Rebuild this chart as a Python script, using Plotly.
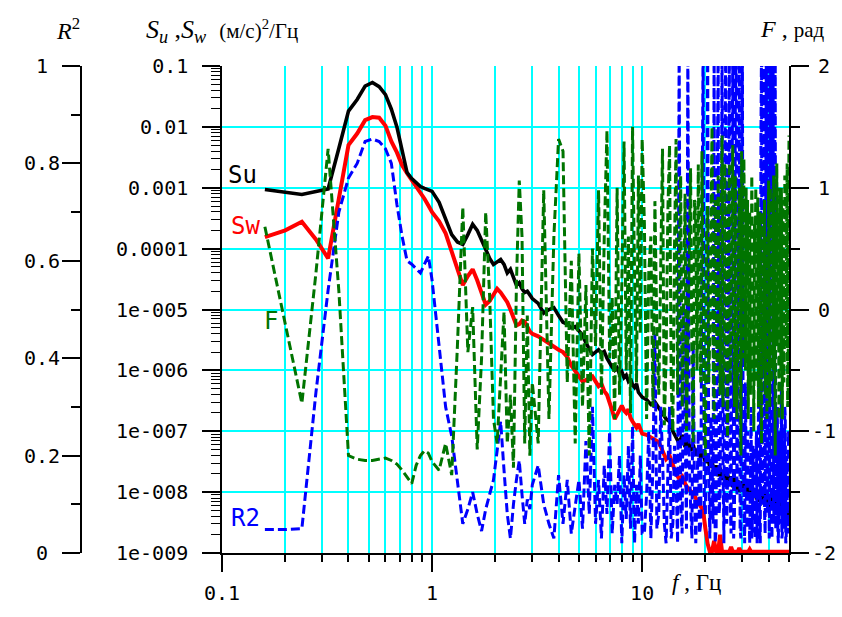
import plotly.graph_objects as go

# ---------------- data ----------------
# frequency grid of the spectra, Hz
freq_a = [0.16, 0.20, 0.24, 0.28, 0.32, 0.36, 0.40, 0.44, 0.48, 0.52, 0.56,
          0.60, 0.64, 0.68, 0.72, 0.76, 0.80, 0.84, 0.88, 0.92, 0.96, 1.00]
freq_b = [1.08, 1.16, 1.24, 1.32, 1.40, 1.48, 1.56, 1.64, 1.72, 1.80, 1.88, 1.96,
          2.04, 2.12, 2.20, 2.28, 2.36, 2.44, 2.52, 2.60, 2.68, 2.76, 2.84, 2.92, 3.00]
freq_c = [3.2, 3.4, 3.6, 3.8, 4.0, 4.2, 4.4, 4.6, 4.8, 5.0, 5.2, 5.4, 5.6, 5.8,
          6.0, 6.2, 6.4, 6.6, 6.8, 7.0, 7.2, 7.4, 7.6, 7.8, 8.0, 8.2, 8.4, 8.6,
          8.8, 9.0, 9.2, 9.4, 9.6, 9.8, 10.0]
freq_d = [10.5, 11.0, 11.5, 12.0, 12.5, 13.0, 13.5, 14.0, 14.5, 15.0,
          15.5, 16.0, 16.5, 17.0, 17.5, 18.0, 18.5, 19.0, 19.5, 20.0,
          20.5, 21.0, 21.5, 22.0, 22.5, 23.0, 23.5, 24.0, 24.5, 25.0,
          25.5, 26.0, 26.5, 27.0, 27.5, 28.0, 28.5, 29.0, 29.5, 30.0,
          30.5, 31.0, 31.5, 32.0, 32.5, 33.0, 33.5, 34.0, 34.5, 35.0,
          35.5, 36.0, 36.5, 37.0, 37.5, 38.0, 38.5, 39.0, 39.5, 40.0,
          40.5, 41.0, 41.5, 42.0, 42.5, 43.0, 43.5, 44.0, 44.5, 45.0,
          45.5, 46.0, 46.5, 47.0, 47.5, 48.0, 48.5, 49.0, 49.5, 50.0]
# finer high-frequency grid used by the phase and coherence curves, Hz
freq_d2 = [10.25, 10.5, 10.75, 11.0, 11.25, 11.5, 11.75, 12.0, 12.25, 12.5, 12.75, 13.0, 13.25, 13.5, 13.75, 14.0,
           14.25, 14.5, 14.75, 15.0, 15.25, 15.5, 15.75, 16.0, 16.25, 16.5, 16.75, 17.0, 17.25, 17.5, 17.75, 18.0,
           18.25, 18.5, 18.75, 19.0, 19.25, 19.5, 19.75, 20.0, 20.25, 20.5, 20.75, 21.0, 21.25, 21.5, 21.75, 22.0,
           22.25, 22.5, 22.75, 23.0, 23.25, 23.5, 23.75, 24.0, 24.25, 24.5, 24.75, 25.0, 25.25, 25.5, 25.75, 26.0,
           26.25, 26.5, 26.75, 27.0, 27.25, 27.5, 27.75, 28.0, 28.25, 28.5, 28.75, 29.0, 29.25, 29.5, 29.75, 30.0,
           30.25, 30.5, 30.75, 31.0, 31.25, 31.5, 31.75, 32.0, 32.25, 32.5, 32.75, 33.0, 33.25, 33.5, 33.75, 34.0,
           34.25, 34.5, 34.75, 35.0, 35.25, 35.5, 35.75, 36.0, 36.25, 36.5, 36.75, 37.0, 37.25, 37.5, 37.75, 38.0,
           38.25, 38.5, 38.75, 39.0, 39.25, 39.5, 39.75, 40.0, 40.25, 40.5, 40.75, 41.0, 41.25, 41.5, 41.75, 42.0,
           42.25, 42.5, 42.75, 43.0, 43.25, 43.5, 43.75, 44.0, 44.25, 44.5, 44.75, 45.0, 45.25, 45.5, 45.75, 46.0,
           46.25, 46.5, 46.75, 47.0, 47.25, 47.5, 47.75, 48.0, 48.25, 48.5, 48.75, 49.0, 49.25, 49.5, 49.75, 50.0]

# Su spectrum, log10 of (m/s)^2/Hz
su_a = [-3.03, -3.08, -3.11, -3.06, -3.02, -2.35, -1.74, -1.55, -1.33, -1.27, -1.34,
        -1.47, -1.71, -2.00, -2.42, -2.75, -2.85, -2.92, -2.98, -3.01, -3.03, -3.06]
su_b = [-3.24, -3.52, -3.77, -3.89, -3.93, -3.77, -3.60, -3.70, -3.86, -4.02, -4.16, -4.26,
        -4.22, -4.18, -4.26, -4.40, -4.34, -4.48, -4.60, -4.56, -4.66, -4.72, -4.70, -4.76, -4.82]
su_c = [-4.90, -5.06, -5.00, -4.97, -5.10, -5.21, -5.24, -5.30, -5.28, -5.36, -5.42, -5.55,
        -5.66, -5.74, -5.70, -5.66, -5.72, -5.69, -5.80, -5.88, -5.95, -6.00, -5.96, -6.06,
        -6.02, -6.12, -6.08, -6.18, -6.14, -6.24, -6.28, -6.22, -6.36, -6.40, -6.44]
su_d = [-6.48, -6.56, -6.52, -6.62, -6.70, -6.80, -6.84, -7.00, -7.10, -7.20,
        -7.06, -7.26, -7.14, -7.32, -7.22, -7.40, -7.28, -7.44, -7.32, -7.52,
        -7.40, -7.60, -7.48, -7.68, -7.56, -7.74, -7.60, -7.80, -7.66, -7.84,
        -7.70, -7.88, -7.74, -7.92, -7.76, -7.96, -7.80, -8.00, -7.82, -7.98,
        -7.84, -8.04, -7.86, -8.06, -7.90, -8.10, -7.92, -8.08, -7.94, -8.12,
        -7.96, -8.16, -7.98, -8.14, -8.00, -8.20, -8.02, -8.18, -8.04, -8.22,
        -8.06, -8.26, -8.08, -8.24, -8.10, -8.30, -8.12, -8.28, -8.14, -8.32,
        -8.16, -8.36, -8.18, -8.38, -8.20, -8.40, -8.22, -8.42, -8.26, -8.34]

# Sw spectrum, log10 of (m/s)^2/Hz
sw_a = [-3.81, -3.70, -3.56, -3.85, -4.16, -3.16, -2.30, -2.11, -1.89, -1.84, -1.85,
        -1.98, -2.24, -2.42, -2.63, -2.76, -2.87, -2.96, -3.06, -3.18, -3.29, -3.40]
sw_b = [-3.55, -3.75, -4.05, -4.35, -4.60, -4.45, -4.34, -4.52, -4.74, -4.92, -4.86, -4.76,
        -4.66, -4.72, -4.80, -4.88, -5.00, -5.12, -5.26, -5.24, -5.18, -5.20, -5.30, -5.36, -5.40]
sw_c = [-5.44, -5.50, -5.56, -5.62, -5.66, -5.70, -5.78, -5.92, -6.02, -6.10, -6.18, -6.16,
        -6.12, -6.10, -6.18, -6.26, -6.22, -6.34, -6.40, -6.52, -6.66, -6.80, -6.72, -6.62,
        -6.58, -6.66, -6.70, -6.64, -6.78, -6.84, -6.90, -6.94, -6.88, -6.98, -7.04]
sw_d = [-7.06, -7.10, -7.14, -7.18, -7.32, -7.46, -7.40, -7.56, -7.70, -7.78,
        -7.74, -7.86, -7.94, -7.98, -8.02, -8.10, -8.18, -8.26, -8.30, -8.60,
        -8.85, -8.98, -8.98, -8.80, -8.98, -8.98, -8.70, -8.98, -8.98, -8.98,
        -8.98, -8.98, -8.90, -8.98, -8.98, -8.98, -8.98, -8.92, -8.98, -8.98,
        -8.98, -8.98, -8.98, -8.98, -8.94, -8.98, -8.98, -8.98, -8.98, -8.98,
        -8.98, -8.98, -8.98, -8.98, -8.98, -8.98, -8.98, -8.98, -8.98, -8.98,
        -8.98, -8.98, -8.98, -8.98, -8.98, -8.98, -8.98, -8.98, -8.98, -8.98,
        -8.98, -8.98, -8.98, -8.98, -8.98, -8.98, -8.98, -8.98, -8.98, -8.98]

# phase F, rad
ph_a = [0.68, -0.13, -0.77, 0.30, 1.32, 0.15, -1.20, -1.23, -1.24, -1.24, -1.23,
        -1.22, -1.24, -1.27, -1.32, -1.38, -1.43, -1.28, -1.20, -1.16, -1.18, -1.25]
ph_b = [-1.32, -1.10, -1.36, -0.30, 0.84, -0.35, 0.02, -1.15, -0.40, 0.80, 0.10, -0.90,
        -1.10, -0.55, -0.02, -1.10, -0.70, -1.30, 0.20, 1.06, 0.60, -1.10, -0.05, -1.20, -0.60]
ph_c = [-1.10, 0.98, -0.90, 0.60, 1.40, 1.30, -0.60, 0.40, -1.10, 0.46, -0.80, 0.20,
        -1.20, 0.50, -0.30, 0.98, -0.70, 0.60, 1.47, -0.40, 0.10, -0.90, 1.00, -0.70,
        0.20, 1.38, -0.50, 0.60, -0.85, 1.50, 0.30, -0.60, 1.10, -0.20, 1.40]
ph_d2 = [0.70, -0.90, 0.30, 0.60, -0.80, 0.89, -0.20, -0.70, 0.40, 1.32, -0.95, -0.40, 0.80, 1.35, -0.60, -1.00,
         0.50, 1.40, -0.70, 0.20, 1.10, -0.80, 0.30, 0.95, -1.00, -0.30, 0.60, 1.16, -0.40, -1.10, 0.90, 0.70,
         -0.50, 1.19, 0.00, -0.60, 1.30, 0.40, -0.90, -1.20, 0.60, 0.85, -0.60, -0.20, 1.00, 1.50, -0.30, -0.90,
         0.90, 0.30, -0.50, 1.10, 0.20, -0.70, 0.70, 1.43, -0.80, -0.40, 1.20, 0.60, -0.30, -1.05, 0.80, 1.20,
         -0.60, 0.10, 0.90, 1.35, -0.20, -0.80, 1.10, 0.50, -0.90, -0.30, 0.60, 1.00, 0.10, -1.20, 1.30, 0.70,
         -0.40, 1.24, 0.30, -0.50, 1.00, 0.20, 0.90, -0.90, 0.40, 0.80, -0.70, -0.20, 1.10, 0.60, 0.00, -1.00,
         0.70, 0.40, 1.00, -0.60, 0.30, 0.92, -0.80, -0.30, 0.80, 0.50, -0.40, -1.10, 0.60, 0.80, -0.50, 0.10,
         0.90, -0.70, 0.30, 0.60, -0.90, -0.20, 0.70, 1.06, 0.00, -0.80, 1.00, 0.30, -0.60, 0.90, 0.20, -0.50,
         1.10, 0.70, -0.30, -1.20, 0.80, 0.40, 1.20, -0.30, 0.50, 0.80, -0.90, -0.60, 1.00, 0.20, -0.50, 1.00,
         0.30, -0.90, 0.90, 0.50, -0.60, -0.40, 1.10, 0.90, -0.30, -0.10, 0.70, 1.20, -0.80, -0.70, 0.60, 1.43]

# coherence R^2
r2_a = [0.048, 0.048, 0.050, 0.33, 0.54, 0.70, 0.77, 0.80, 0.845, 0.85, 0.845,
        0.83, 0.80, 0.716, 0.65, 0.60, 0.593, 0.583, 0.575, 0.593, 0.61, 0.56]
r2_b = [0.42, 0.30, 0.24, 0.15, 0.06, 0.09, 0.125, 0.08, 0.045, 0.09, 0.12, 0.15,
        0.21, 0.27, 0.17, 0.08, 0.03, 0.10, 0.15, 0.19, 0.12, 0.06, 0.11, 0.09, 0.14]
r2_c = [0.18, 0.10, 0.06, 0.03, 0.16, 0.06, 0.15, 0.04, 0.10, 0.15, 0.05, 0.23,
        0.08, 0.30, 0.06, 0.15, 0.03, 0.18, 0.08, 0.25, 0.04, 0.14, 0.10, 0.20,
        0.02, 0.16, 0.07, 0.22, 0.05, 0.26, 0.02, 0.14, 0.06, 0.20, 0.04]
r2_d2 = [0.04, 0.12, 0.25, 0.03, 0.18, 0.45, 0.05, 0.08, 0.30, 0.20, 0.06, 0.02, 0.16, 0.30, 0.03, 0.06,
         0.22, 0.15, 0.02, 1.05, 0.10, 0.04, 0.50, 0.30, 0.05, 1.05, 0.20, 0.10, 0.03, 0.43, 0.12, 0.02,
         0.18, 0.25, 0.04, 0.06, 0.60, 1.05, 0.10, 0.08, 0.40, 1.05, 0.15, 0.03, 0.28, 0.20, 0.06, 1.05,
         0.02, 0.05, 0.70, 1.05, 0.08, 0.12, 0.45, 1.05, 0.20, 0.02, 0.80, 1.05, 0.06, 0.15, 0.55, 1.05,
         0.10, 0.04, 0.65, 1.05, 0.03, 0.08, 0.90, 1.05, 0.12, 0.22, 0.40, 1.05, 0.05, 0.03, 0.75, 1.05,
         0.20, 0.10, 0.02, 0.35, 0.08, 0.05, 0.25, 0.18, 0.04, 0.02, 0.15, 0.30, 0.03, 0.07, 0.22, 0.14,
         0.05, 0.03, 0.18, 0.25, 0.02, 0.06, 0.28, 0.40, 0.05, 0.02, 0.85, 1.05, 0.12, 0.10, 0.60, 1.05,
         0.08, 0.04, 0.70, 1.05, 0.15, 0.08, 0.50, 1.05, 0.03, 0.15, 0.90, 1.05, 0.06, 0.03, 0.65, 1.05,
         0.10, 0.06, 0.80, 1.05, 0.05, 0.12, 0.20, 0.30, 0.04, 0.02, 0.18, 0.25, 0.06, 0.08, 0.22, 0.35,
         0.03, 0.04, 0.26, 0.20, 0.05, 0.10, 0.30, 0.28, 0.02, 0.03, 0.20, 0.15, 0.04, 0.06, 0.25, 0.22]

# tick labels
x_tickvals = [0.1, 1, 10]
x_ticktext = ["0.1", "1", "10"]
x_minor = [0.2, 0.3, 0.4, 0.5, 0.6, 0.7, 0.8, 0.9, 2, 3, 4, 5, 6, 7, 8, 9, 20, 30, 40, 50]
s_tickvals = [1e-9, 1e-8, 1e-7, 1e-6, 1e-5, 1e-4, 1e-3, 1e-2, 1e-1]
s_ticktext = ["1e-009", "1e-008", "1e-007", "1e-006", "1e-005", "0.0001", "0.001", "0.01", "0.1"]
r2_tickvals = [0, 0.2, 0.4, 0.6, 0.8, 1.0]
r2_ticktext = ["0", "0.2", "0.4", "0.6", "0.8", "1"]
r2_minor = [0.1, 0.3, 0.5, 0.7, 0.9]
ph_tickvals = [-2, -1, 0, 1, 2]
ph_ticktext = ["-2", "-1", "0", "1", "2"]
ph_minor = [-1.5, -0.5, 0.5, 1.5]

# ---------------- assemble ----------------
freq = freq_a + freq_b + freq_c + freq_d
su = [10 ** v for v in su_a + su_b + su_c + su_d]
sw = [10 ** v for v in sw_a + sw_b + sw_c + sw_d]
freq_fr = freq_a + freq_b + freq_c + freq_d2
ph = ph_a + ph_b + ph_c + ph_d2
r2 = r2_a + r2_b + r2_c + r2_d2
assert len(freq) == len(su) == len(sw)
assert len(freq_fr) == len(ph) == len(r2)

s_minor = [m * 10 ** e for e in range(-9, -1) for m in range(2, 10)]

W, H = 842, 617
ML, MR, MT, MB = 60, 53, 66, 55
PW = W - ML - MR
PH = H - MT - MB
X0 = 222  # pixel of left plot edge


def px(xp):
    return (xp - ML) / PW


def py(yp):
    return (H - MB - yp) / PH


CYAN = "#00FFFF"
GREEN = "#007400"
TICKFONT = dict(family="DejaVu Sans Mono", size=20, color="black")
LBLFONT = "DejaVu Sans Mono"
SERIF = "Liberation Serif"

fig = go.Figure()
fig.add_trace(go.Scatter(x=freq_fr, y=ph, mode="lines", line=dict(color=GREEN, width=3, dash="9px,4px"),
                         yaxis="y3", name="F"))
fig.add_trace(go.Scatter(x=freq_fr, y=r2, mode="lines", line=dict(color="#0000FF", width=3, dash="9px,4px"),
                         yaxis="y2", name="R2"))
fig.add_trace(go.Scatter(x=freq, y=sw, mode="lines", line=dict(color="#FF0000", width=4),
                         yaxis="y", name="Sw"))
fig.add_trace(go.Scatter(x=freq, y=su, mode="lines", line=dict(color="black", width=3.6),
                         yaxis="y", name="Su"))

fig.update_layout(
    width=W, height=H,
    margin=dict(l=ML, r=MR, t=MT, b=MB),
    paper_bgcolor="white", plot_bgcolor="white",
    showlegend=False,
    xaxis=dict(
        type="log", range=[-1, 1.69897], domain=[px(X0), 1], anchor="y",
        showline=True, linecolor="black", linewidth=1.5,
        ticks="outside", ticklen=17, tickwidth=1.5, tickcolor="black",
        tickvals=x_tickvals, ticktext=x_ticktext, tickfont=TICKFONT,
        ticklabelstandoff=4,
        showgrid=True, gridcolor=CYAN, gridwidth=1.8, zeroline=False,
        minor=dict(tickvals=x_minor, ticks="outside", ticklen=7, tickwidth=1.5,
                   tickcolor="black", showgrid=True, gridcolor=CYAN, gridwidth=1.8),
    ),
    yaxis=dict(
        type="log", range=[-9, -1], anchor="x", side="left",
        showline=True, linecolor="black", linewidth=1.5,
        ticks="outside", ticklen=18, tickwidth=1.5, tickcolor="black",
        tickvals=s_tickvals, ticktext=s_ticktext, tickfont=TICKFONT,
        ticklabelstandoff=10,
        showgrid=True, gridcolor=CYAN, gridwidth=1.8, zeroline=False,
        minor=dict(tickvals=s_minor, ticks="outside", ticklen=9, tickwidth=1,
                   tickcolor="black", showgrid=False),
    ),
    yaxis2=dict(
        range=[0, 1], overlaying="y", anchor="free", position=px(81), side="left",
        showline=True, linecolor="black", linewidth=1.5,
        ticks="outside", ticklen=18, tickwidth=1.5, tickcolor="black",
        tickvals=r2_tickvals, showticklabels=False, showgrid=False, zeroline=False,
        minor=dict(tickvals=r2_minor, ticks="outside", ticklen=9, tickwidth=1.5,
                   tickcolor="black", showgrid=False),
    ),
    yaxis3=dict(
        range=[-2, 2], overlaying="y", anchor="x", side="right",
        showline=True, linecolor="black", linewidth=1.5,
        ticks="outside", ticklen=18, tickwidth=1.5, tickcolor="black",
        tickvals=ph_tickvals, showticklabels=False, showgrid=False, zeroline=False,
        minor=dict(tickvals=ph_minor, ticks="outside", ticklen=9, tickwidth=1.5,
                   tickcolor="black", showgrid=False),
    ),
)

ann = []
# tick labels of the outer R^2 axis and the right phase axis (centred like the original)
for v, t in zip(r2_tickvals, r2_ticktext):
    ann.append(dict(x=px(42), xref="paper", y=v, yref="y2", text=t, showarrow=False,
                    xanchor="center", yanchor="middle", font=TICKFONT))
for v, t in zip(ph_tickvals, ph_ticktext):
    ann.append(dict(x=px(824), xref="paper", y=v, yref="y3", text=t, showarrow=False,
                    xanchor="center", yanchor="middle", font=TICKFONT))

# axis titles
ann.append(dict(x=px(68), y=py(28), xref="paper", yref="paper", showarrow=False,
                text="<i>R</i><sup>2</sup>", font=dict(family=SERIF, size=24, color="black"),
                xanchor="center", yanchor="middle"))
ann.append(dict(x=px(222), y=py(30), xref="paper", yref="paper", showarrow=False,
                text="<i>S<sub>u</sub></i> ,<i>S<sub>w</sub></i>  <span style='font-size:21px'>(м/с)<sup>2</sup>/Гц</span>",
                font=dict(family=SERIF, size=26, color="black"),
                xanchor="center", yanchor="middle"))
ann.append(dict(x=px(792), y=py(28), xref="paper", yref="paper", showarrow=False,
                text="<i>F</i> , <span style='font-size:21px'>рад</span>",
                font=dict(family=SERIF, size=24, color="black"),
                xanchor="center", yanchor="middle"))
ann.append(dict(x=px(696), y=py(592), xref="paper", yref="paper", showarrow=False,
                text="<i>f</i> , Гц", font=dict(family=SERIF, size=23, color="black"),
                xanchor="center", yanchor="middle"))

# curve labels
for txt, col, cx, cy in [("Su", "black", 242, 177), ("Sw", "#FF0000", 245, 229),
                         ("F", GREEN, 271, 326), ("R2", "#0000FF", 245, 526)]:
    ann.append(dict(x=px(cx), y=py(cy), xref="paper", yref="paper", showarrow=False,
                    text=txt, font=dict(family=LBLFONT, size=24, color=col),
                    xanchor="center", yanchor="middle"))

fig.update_layout(annotations=ann)
fig.write_html("out.html")
